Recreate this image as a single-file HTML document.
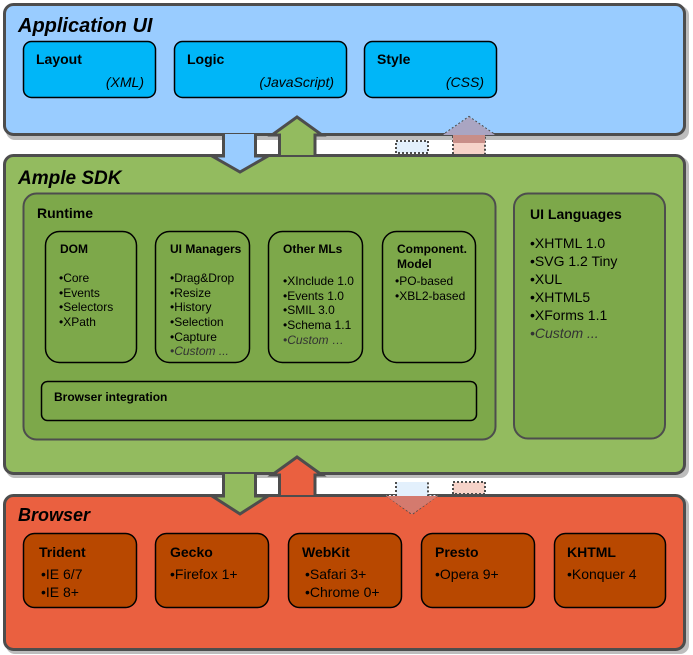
<!DOCTYPE html>
<html><head><meta charset="utf-8"><style>
html,body{margin:0;padding:0;background:#fff;}
svg{display:block;font-family:"Liberation Sans",Arial,sans-serif;}
.h{font-weight:bold;font-size:13px;fill:#000;}
.t{font-size:12px;fill:#000;}
.c{font-size:12px;fill:#333;font-style:italic;}
.ti{font-weight:bold;font-style:italic;font-size:20px;fill:#000;}
</style></head><body>
<svg width="693" height="655" viewBox="0 0 693 655" xmlns="http://www.w3.org/2000/svg">
<!-- shadows -->
<rect x="6" y="6" width="683" height="134" rx="9" fill="#bdbdbd"/>
<rect x="6" y="157" width="683" height="321" rx="9" fill="#bdbdbd"/>
<rect x="6" y="497" width="683" height="157" rx="9" fill="#bdbdbd"/>
<!-- main boxes -->
<rect x="4.5" y="4.5" width="680" height="130" rx="9" fill="#99ccff" stroke="#4d4d4d" stroke-width="3"/>
<rect x="4.5" y="155.5" width="680" height="318" rx="9" fill="#93bb5f" stroke="#4d4d4d" stroke-width="3"/>
<rect x="4.5" y="495.5" width="680" height="154" rx="9" fill="#ea6040" stroke="#4d4d4d" stroke-width="3"/>
<text x="18" y="32" class="ti">Application UI</text>
<text x="18" y="184" class="ti" style="font-size:19px">Ample SDK</text>
<text x="18" y="521" class="ti" style="font-size:18px">Browser</text>
<!-- App UI boxes -->
<g stroke="#000" stroke-width="1.5" fill="#00b6f8">
<rect x="23.5" y="41.5" width="132" height="56" rx="8"/>
<rect x="174.5" y="41.5" width="172" height="56" rx="8"/>
<rect x="364.5" y="41.5" width="132" height="56" rx="8"/>
</g>
<text x="36" y="64" class="h" style="font-size:14px">Layout</text>
<text x="144" y="87" class="t" text-anchor="end" style="font-style:italic;font-size:14px">(XML)</text>
<text x="187" y="64" class="h" style="font-size:14px">Logic</text>
<text x="334" y="87" class="t" text-anchor="end" style="font-style:italic;font-size:14px">(JavaScript)</text>
<text x="377" y="64" class="h" style="font-size:14px">Style</text>
<text x="484" y="87" class="t" text-anchor="end" style="font-style:italic;font-size:14px">(CSS)</text>
<!-- Runtime -->
<rect x="23.5" y="193.5" width="472" height="246" rx="13" fill="#7da84a" stroke="#4d4d4d" stroke-width="2"/>
<text x="37" y="218" class="h" style="font-size:14px">Runtime</text>
<g stroke="#000" stroke-width="1.5" fill="#7da84a">
<rect x="45.5" y="231.5" width="91" height="131" rx="14"/>
<rect x="155.5" y="231.5" width="94" height="131" rx="14"/>
<rect x="268.5" y="231.5" width="94" height="131" rx="14"/>
<rect x="382.5" y="231.5" width="93" height="131" rx="14"/>
<rect x="41.5" y="381.5" width="435" height="39" rx="6"/>
</g>
<text x="60" y="253" class="h" style="font-size:12px">DOM</text>
<text x="59" y="282" class="t">•Core</text>
<text x="59" y="297" class="t">•Events</text>
<text x="59" y="311" class="t">•Selectors</text>
<text x="59" y="326" class="t">•XPath</text>
<text x="170" y="253" class="h" style="font-size:12px">UI Managers</text>
<text x="170" y="282" class="t">•Drag&amp;Drop</text>
<text x="170" y="297" class="t">•Resize</text>
<text x="170" y="311" class="t">•History</text>
<text x="170" y="326" class="t">•Selection</text>
<text x="170" y="341" class="t">•Capture</text>
<text x="170" y="355" class="c">•Custom ...</text>
<text x="283" y="253" class="h" style="font-size:12px">Other MLs</text>
<text x="283" y="285" class="t">•XInclude 1.0</text>
<text x="283" y="300" class="t">•Events 1.0</text>
<text x="283" y="314" class="t">•SMIL 3.0</text>
<text x="283" y="329" class="t">•Schema 1.1</text>
<text x="283" y="344" class="c">•Custom …</text>
<text x="397" y="253" class="h" style="font-size:12px">Component.</text>
<text x="397" y="268" class="h" style="font-size:12px">Model</text>
<text x="395" y="285" class="t">•PO-based</text>
<text x="395" y="300" class="t">•XBL2-based</text>
<text x="54" y="401" class="h" style="font-size:12px">Browser integration</text>
<!-- UI Languages -->
<rect x="514" y="193.5" width="151" height="245" rx="14" fill="#7da84a" stroke="#4d4d4d" stroke-width="2"/>
<text x="530" y="219" class="h" style="font-size:14px">UI Languages</text>
<g class="t" style="font-size:14px">
<text x="530" y="248" class="t" style="font-size:14px">•XHTML 1.0</text>
<text x="530" y="266" class="t" style="font-size:14px">•SVG 1.2 Tiny</text>
<text x="530" y="284" class="t" style="font-size:14px">•XUL</text>
<text x="530" y="302" class="t" style="font-size:14px">•XHTML5</text>
<text x="530" y="320" class="t" style="font-size:14px">•XForms 1.1</text>
<text x="530" y="338" class="c" style="font-size:14px">•Custom ...</text>
</g>
<!-- Browser boxes -->
<g stroke="#000" stroke-width="1.5" fill="#b84800">
<rect x="23.5" y="533.5" width="113" height="74" rx="11"/>
<rect x="155.5" y="533.5" width="113" height="74" rx="11"/>
<rect x="288.5" y="533.5" width="113" height="74" rx="11"/>
<rect x="421.5" y="533.5" width="113" height="74" rx="11"/>
<rect x="554.5" y="533.5" width="111" height="74" rx="11"/>
</g>
<text x="39" y="557" class="h" style="font-size:14px">Trident</text>
<text x="41" y="579" class="t" style="font-size:14px">•IE 6/7</text>
<text x="41" y="597" class="t" style="font-size:14px">•IE 8+</text>
<text x="170" y="557" class="h" style="font-size:14px">Gecko</text>
<text x="170" y="579" class="t" style="font-size:14px">•Firefox 1+</text>
<text x="302" y="557" class="h" style="font-size:14px">WebKit</text>
<text x="305" y="579" class="t" style="font-size:14px">•Safari 3+</text>
<text x="305" y="597" class="t" style="font-size:14px">•Chrome 0+</text>
<text x="435" y="557" class="h" style="font-size:14px">Presto</text>
<text x="435" y="579" class="t" style="font-size:14px">•Opera 9+</text>
<text x="567" y="557" class="h" style="font-size:14px">KHTML</text>
<text x="567" y="579" class="t" style="font-size:14px">•Konquer 4</text>
<!-- top arrows -->
<path d="M223.5,134 V156 H212 L240,172 L268,156 H255.5 V134" fill="#99ccff" stroke="#4d4d4d" stroke-width="3"/>
<path d="M279.5,155 V135 H272 L297,117 L322,135 H315 V155" fill="#93bb5f" stroke="#4d4d4d" stroke-width="3"/>
<rect x="396" y="141" width="32" height="12" fill="#e3f0fc" stroke="#4d4d4d" stroke-width="2" stroke-dasharray="2,2"/>
<path d="M453,154 V135 H443 L469,117 L495,135 H485 V154" fill="#f6d3c9" stroke="#4d4d4d" stroke-width="2" stroke-dasharray="2,2"/>
<path d="M443,135 L469,117 L495,135 Z" fill="#aaa5c2"/>
<rect x="453" y="135" width="32" height="8" fill="#c88e88"/>
<!-- bottom arrows -->
<path d="M223.5,474 V496 H212 L240,514 L268,496 H255.5 V474" fill="#93bb5f" stroke="#4d4d4d" stroke-width="3"/>
<path d="M279.5,495 V475 H272 L297,457 L322,475 H315 V495" fill="#ea6040" stroke="#4d4d4d" stroke-width="3"/>
<rect x="453" y="482" width="32" height="12" fill="#f6d3c9" stroke="#4d4d4d" stroke-width="2" stroke-dasharray="2,2"/>
<path d="M396,482 V495 H386 L412,514 L438,495 H428 V482" fill="#e3f0fc" stroke="#4d4d4d" stroke-width="2" stroke-dasharray="2,2"/>
<path d="M386,496 L412,514 L438,496 Z" fill="#d47a6e"/>
</svg>
</body></html>
